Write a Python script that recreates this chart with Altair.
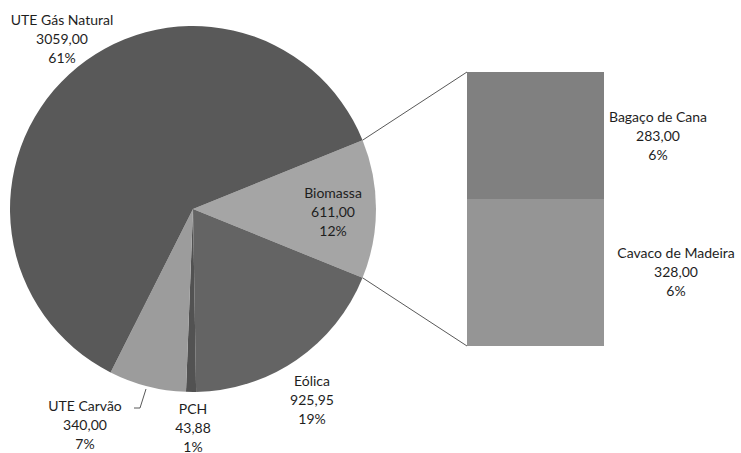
import math
import altair as alt
import pandas as pd

# Installed generation capacity by source
pie_sources = ["Biomassa", "Eólica", "PCH", "UTE Carvão", "UTE Gás Natural"]
pie_values = [611.00, 925.95, 43.88, 340.00, 3059.00]
pie_pcts = ["12%", "19%", "1%", "7%", "61%"]
pie_colors = ["#a5a5a5", "#646464", "#525252", "#9c9c9c", "#595959"]

# Breakdown of the biomass share
bio_sources = ["Cavaco de Madeira", "Bagaço de Cana"]
bio_values = [328.00, 283.00]
bio_pcts = ["6%", "6%"]
bio_colors = ["#959595", "#808080"]

W, H = 741, 453
CX, CY, R = 193, 209, 183
BAR_X0, BAR_X1, BAR_TOP, BAR_BOTTOM = 467, 604, 72, 346

total = sum(pie_values)
# rotate the pie so the biomass slice is centred on the right-hand side
start = math.pi / 2 - math.pi * pie_values[0] / total
theta_range = [start, start + 2 * math.pi]


def fmt(v):
    return f"{v:.2f}".replace(".", ",")


pie_df = pd.DataFrame({
    "fonte": pie_sources,
    "valor": pie_values,
    "ordem": list(range(len(pie_sources))),
})

bio_df = pd.DataFrame({
    "fonte": bio_sources,
    "valor": bio_values,
    "ordem": list(range(len(bio_sources))),
})

# label anchor points (pixel layout)
label_pos = {
    "UTE Gás Natural": (62, 21),
    "Biomassa": (333, 194),
    "Eólica": (312, 382),
    "PCH": (193, 410),
    "UTE Carvão": (85, 407),
    "Bagaço de Cana": (658, 118),
    "Cavaco de Madeira": (676, 254),
}
labels = []
for s, v, p in zip(pie_sources + bio_sources, pie_values + bio_values, pie_pcts + bio_pcts):
    x, y = label_pos[s]
    labels.append({"x": x, "y": y, "txt": f"{s}\n{fmt(v)}\n{p}"})
label_df = pd.DataFrame(labels)

# connector lines from the edges of the biomass slice to the bar corners
a0 = start
a1 = start + 2 * math.pi * pie_values[0] / total
conn_df = pd.DataFrame({
    "x": [CX + R * math.sin(a0), CX + R * math.sin(a1)],
    "y": [CY - R * math.cos(a0), CY - R * math.cos(a1)],
    "x2": [BAR_X0, BAR_X0],
    "y2": [BAR_TOP, BAR_BOTTOM],
})

px_x = alt.Scale(domain=[0, W], range=[0, W])
px_y = alt.Scale(domain=[0, H], range=[0, H])

pie = alt.Chart(pie_df).mark_arc(radius=R).encode(
    theta=alt.Theta("valor:Q", stack=True,
                    scale=alt.Scale(domain=[0, total], range=theta_range)),
    order=alt.Order("ordem:Q"),
    color=alt.Color("fonte:N", scale=alt.Scale(domain=pie_sources, range=pie_colors),
                    legend=None),
    x=alt.value(CX),
    y=alt.value(CY),
)

bar = alt.Chart(bio_df).transform_stack(
    stack="valor", groupby=[], as_=["v0", "v1"], sort=[alt.SortField("ordem")]
).mark_rect().encode(
    x=alt.value(BAR_X0),
    x2=alt.value(BAR_X1),
    y=alt.Y("v0:Q",
            scale=alt.Scale(domain=[0, sum(bio_values)], range=[BAR_BOTTOM, BAR_TOP]),
            axis=None),
    y2="v1:Q",
    color=alt.Color("fonte:N", scale=alt.Scale(domain=bio_sources, range=bio_colors),
                    legend=None),
)

conn = alt.Chart(conn_df).mark_rule(color="#595959", strokeWidth=1).encode(
    x=alt.X("x:Q", scale=px_x, axis=None),
    y=alt.Y("y:Q", scale=px_y, axis=None),
    x2="x2:Q",
    y2="y2:Q",
)

leader = alt.Chart(pd.DataFrame({"x": [146, 140, 134], "y": [389, 408, 408], "i": [0, 1, 2]})).mark_line(
    color="#595959", strokeWidth=1
).encode(
    x=alt.X("x:Q", scale=px_x, axis=None),
    y=alt.Y("y:Q", scale=px_y, axis=None),
    order="i:Q",
)

text = alt.Chart(label_df).mark_text(
    font="Lato", fontSize=14, color="#1e1e1e", lineBreak="\n",
    lineHeight=19, baseline="middle", align="center",
).encode(
    x=alt.X("x:Q", scale=px_x, axis=None),
    y=alt.Y("y:Q", scale=px_y, axis=None),
    text="txt:N",
)

chart = alt.layer(pie, bar, conn, leader, text).resolve_scale(
    color="independent", y="independent", x="independent", theta="independent"
).properties(
    width=W, height=H, padding=0, autosize=alt.AutoSizeParams(type="none"),
).configure_view(stroke=None)

chart.save("out.html", embed_options={"renderer": "svg", "actions": False})
